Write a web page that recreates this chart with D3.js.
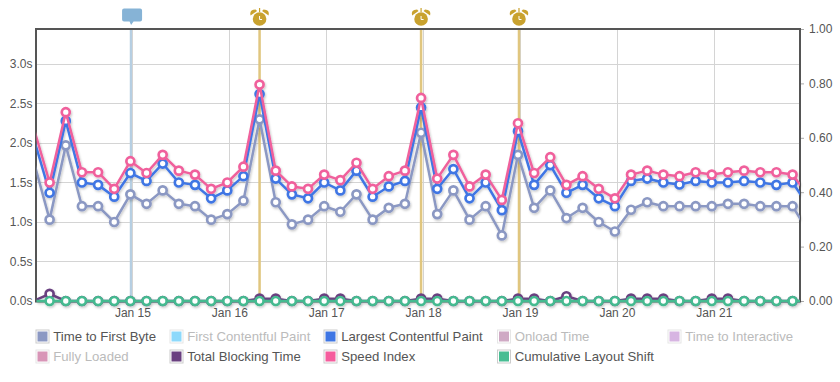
<!DOCTYPE html>
<html>
<head>
<meta charset="utf-8">
<script src="https://cdn.jsdelivr.net/npm/d3@7"></script>
<style>
html,body{margin:0;padding:0;background:#fff;}
svg{display:block;font-family:"Liberation Sans",Arial,sans-serif;}
</style>
</head>
<body>
<svg id="c" width="840" height="382"></svg>
<script>
const times = ["2021-01-13T23:30Z",
"2021-01-14T03:30Z","2021-01-14T07:30Z","2021-01-14T11:30Z","2021-01-14T15:30Z","2021-01-14T19:30Z","2021-01-14T23:30Z",
"2021-01-15T03:30Z","2021-01-15T07:30Z","2021-01-15T11:30Z","2021-01-15T15:30Z","2021-01-15T19:30Z","2021-01-15T23:30Z",
"2021-01-16T03:30Z","2021-01-16T07:30Z","2021-01-16T11:30Z","2021-01-16T15:30Z","2021-01-16T19:30Z","2021-01-16T23:30Z",
"2021-01-17T03:30Z","2021-01-17T07:30Z","2021-01-17T11:30Z","2021-01-17T15:30Z","2021-01-17T19:30Z","2021-01-17T23:30Z",
"2021-01-18T03:30Z","2021-01-18T07:30Z","2021-01-18T11:30Z","2021-01-18T15:30Z","2021-01-18T19:30Z","2021-01-18T23:30Z",
"2021-01-19T03:30Z","2021-01-19T07:30Z","2021-01-19T11:30Z","2021-01-19T15:30Z","2021-01-19T19:30Z","2021-01-19T23:30Z",
"2021-01-20T03:30Z","2021-01-20T07:30Z","2021-01-20T11:30Z","2021-01-20T15:30Z","2021-01-20T19:30Z","2021-01-20T23:30Z",
"2021-01-21T03:30Z","2021-01-21T07:30Z","2021-01-21T11:30Z","2021-01-21T15:30Z","2021-01-21T19:30Z","2021-01-21T23:30Z"];
const ttfb = [1.78,1.03,1.97,1.20,1.20,1.00,1.35,1.23,1.40,1.23,1.20,1.03,1.10,1.27,2.30,1.25,0.97,1.03,1.20,1.13,1.35,1.03,1.18,1.23,2.13,1.10,1.40,1.03,1.20,0.83,1.85,1.18,1.40,1.05,1.18,1.00,0.88,1.155,1.25,1.20,1.20,1.20,1.20,1.23,1.23,1.20,1.20,1.20,0.87];
const lcp = [2.07,1.37,2.28,1.50,1.47,1.32,1.62,1.52,1.74,1.50,1.47,1.30,1.40,1.58,2.62,1.55,1.35,1.30,1.50,1.40,1.65,1.32,1.45,1.52,2.45,1.42,1.67,1.30,1.50,1.15,2.15,1.47,1.72,1.37,1.47,1.30,1.20,1.52,1.55,1.50,1.475,1.52,1.50,1.50,1.52,1.50,1.47,1.50,1.20];
const speedIndex = [2.20,1.50,2.39,1.63,1.63,1.42,1.77,1.62,1.85,1.65,1.60,1.42,1.50,1.70,2.74,1.65,1.45,1.42,1.60,1.53,1.75,1.42,1.58,1.65,2.57,1.55,1.85,1.45,1.60,1.28,2.25,1.62,1.82,1.47,1.58,1.42,1.30,1.60,1.65,1.60,1.58,1.63,1.60,1.63,1.65,1.63,1.63,1.60,1.33];
const tbt = [0,0.09,0,0,0,0,0,0,0,0,0,0,0,0,0.03,0.03,0,0,0.03,0.03,0,0,0,0,0.03,0.03,0,0,0,0,0.03,0.03,0,0.06,0,0,0,0.03,0.03,0.03,0,0,0.03,0.03,0,0,0,0,0];
const cls = [0,0,0,0,0,0,0,0,0,0,0,0,0,0,0,0,0,0,0,0,0,0,0,0,0,0,0,0,0,0,0,0,0,0,0,0,0,0,0,0,0,0,0,0,0,0,0,0,0];

const leftTicks = [0,0.5,1.0,1.5,2.0,2.5,3.0];
const rightTicks = [0,0.2,0.4,0.6,0.8,1.0];
const dayTicks = ["2021-01-15T00:00Z","2021-01-16T00:00Z","2021-01-17T00:00Z","2021-01-18T00:00Z","2021-01-19T00:00Z","2021-01-20T00:00Z","2021-01-21T00:00Z"];
const noteTimes = ["2021-01-14T23:30Z"];
const alarmTimes = ["2021-01-16T07:30Z","2021-01-17T23:30Z","2021-01-18T23:45Z"];

const legendNames = ["Time to First Byte","First Contentful Paint","Largest Contentful Paint","Onload Time","Time to Interactive","Fully Loaded","Total Blocking Time","Speed Index","Cumulative Layout Shift"];
const legendColors = ["#8b98c3","#8dd9fb","#3f76e4","#cfa9c4","#d7b5e2","#d895b7","#6a4080","#f55d9d","#48bd93"];
const legendOn = [true,false,true,false,false,false,true,true,true];

const W = {l:36.5,r:800,t:29,b:301};
const legendCols = [35.5,169.5,323.5,497,667.5];
const legendRows = [336.5,356.5];
const colTtfb="#8b98c3",colLcp="#3f76e4",colSi="#f0609c",colTbt="#6a4080",colCls="#45ba90";
const frameCol="#555", gridCol="#d4d4d4", textCol="#555";

const parse = s => new Date(s);
const x = d3.scaleUtc().domain([parse("2021-01-14T00:15Z"),parse("2021-01-21T21:21Z")]).range([W.l,W.r]);
const yL = d3.scaleLinear().domain([0,272/79]).range([W.b,W.t]);
const yR = d3.scaleLinear().domain([0,1]).range([W.b,W.t]);

const svg = d3.select("#c");
const defs = svg.append("defs");
defs.append("clipPath").attr("id","plot").append("rect").attr("x",W.l).attr("y",0).attr("width",W.r-W.l).attr("height",382);
const f = defs.append("filter").attr("id","sh").attr("filterUnits","userSpaceOnUse").attr("x",0).attr("y",0).attr("width",840).attr("height",382);
f.append("feDropShadow").attr("dx",1).attr("dy",1.5).attr("stdDeviation",1).attr("flood-color","#000").attr("flood-opacity",0.22);

// grid
const gg = svg.append("g");
gg.selectAll("line.h").data(leftTicks.slice(1)).join("line").attr("class","h")
  .attr("x1",W.l).attr("x2",W.r).attr("y1",d=>Math.floor(yL(d))+0.5).attr("y2",d=>Math.floor(yL(d))+0.5)
  .attr("stroke",gridCol);
gg.selectAll("line.v").data(dayTicks).join("line").attr("class","v")
  .attr("y1",W.t).attr("y2",W.b).attr("x1",d=>Math.round(x(parse(d)))+0.5).attr("x2",d=>Math.round(x(parse(d)))+0.5)
  .attr("stroke",gridCol);

// annotation lines
svg.append("g").selectAll("line").data(noteTimes).join("line")
  .attr("x1",d=>x(parse(d))+0.5).attr("x2",d=>x(parse(d))+0.5).attr("y1",W.t).attr("y2",W.b)
  .attr("stroke","#b5cee2").attr("stroke-width",2.2);
svg.append("g").selectAll("line").data(alarmTimes).join("line")
  .attr("x1",d=>x(parse(d))).attr("x2",d=>x(parse(d))).attr("y1",W.t).attr("y2",W.b)
  .attr("stroke","#e0c67f").attr("stroke-width",2.5);

// axes
const axL = svg.append("g").attr("transform",`translate(${W.l},0)`)
  .call(d3.axisLeft(yL).tickValues(leftTicks).tickSize(0).tickPadding(4).tickFormat(d=>d3.format(".1f")(d)+"s"));
const axR = svg.append("g").attr("transform",`translate(${W.r},0)`)
  .call(d3.axisRight(yR).tickValues(rightTicks).tickSize(4).tickPadding(5).tickFormat(d3.format(".2f")));
const axB = svg.append("g").attr("transform",`translate(0,${W.b})`)
  .call(d3.axisBottom(x).tickValues(dayTicks.map(parse)).tickSize(0).tickPadding(7).tickFormat(d3.utcFormat("%b %-d")));
[axL,axR,axB].forEach(a=>{
  a.select(".domain").remove();
  a.selectAll("text").attr("fill",textCol).style("font-size","12px").style("font-family",'"Liberation Sans",Arial,sans-serif');
  a.selectAll("line").attr("stroke","#aaa");
});
axL.selectAll(".tick text").attr("dy","0.33em");
axR.selectAll(".tick text").attr("dy","0.33em");

// frame
svg.append("rect").attr("x",36).attr("y",29).attr("width",764).attr("height",272.5)
  .attr("fill","none").attr("stroke",frameCol).attr("stroke-width",2);

// series
const series = [
  {v:ttfb,c:colTtfb,y:yL},
  {v:lcp,c:colLcp,y:yL},
  {v:tbt,c:colTbt,y:yL},
  {v:speedIndex,c:colSi,y:yL},
  {v:cls,c:colCls,y:yR}
];
const rows = times.map(parse);
const sg = svg.append("g").attr("filter","url(#sh)");
series.forEach(s=>{
  const pts = s.v.map((v,i)=>({t:rows[i],v}));
  const line = d3.line().x(d=>x(d.t)).y(d=>s.y(d.v));
  const g = sg.append("g");
  g.append("path").attr("d",line(pts)).attr("fill","none").attr("stroke",s.c).attr("stroke-width",2.5)
    .attr("stroke-linejoin","round").attr("clip-path","url(#plot)");
  g.selectAll("circle").data(pts.filter(d=>x(d.t)>=W.l && x(d.t)<=W.r)).join("circle")
    .attr("cx",d=>x(d.t)).attr("cy",d=>s.y(d.v)).attr("r",4)
    .attr("fill","#fff").attr("stroke",s.c).attr("stroke-width",2.7);
});

// flag icons
const noteG = svg.append("g").selectAll("g").data(noteTimes).join("g")
  .attr("transform",d=>`translate(${x(parse(d))+1.7},0)`);
noteG.append("path").attr("fill","#86b3d6")
  .attr("d","M-8,8.5 H8 Q10,8.5 10,10.5 V19.5 Q10,21.5 8,21.5 H1.5 L-1,25 L-2.5,21.5 H-8 Q-10,21.5 -10,19.5 V10.5 Q-10,8.5 -8,8.5 Z");
const alarmG = svg.append("g").selectAll("g").data(alarmTimes).join("g")
  .attr("transform",d=>`translate(${x(parse(d))},0)`);
const gold="#c9a22f";
alarmG.append("circle").attr("cx",0).attr("cy",19).attr("r",6.8).attr("fill",gold);
alarmG.append("path").attr("fill",gold).attr("d","M-9,15.5 Q-10.5,9.5 -4,9.5 L-2.5,11 Z");
alarmG.append("path").attr("fill",gold).attr("d","M9,15.5 Q10.5,9.5 4,9.5 L2.5,11 Z");
alarmG.append("rect").attr("x",-0.6).attr("y",8).attr("width",1.2).attr("height",4).attr("fill",gold);
alarmG.append("path").attr("fill","none").attr("stroke","#fff").attr("stroke-width",1).attr("d","M0,16 V19.5 H2.5");

// legend
const lg = svg.append("g").selectAll("g").data(legendNames).join("g")
  .attr("transform",(d,i)=>{
    const cols=[0,1,2,3,4,0,1,2,3], rowsI=[0,0,0,0,0,1,1,1,1];
    return `translate(${legendCols[cols[i]]},${legendRows[rowsI[i]]})`;
  });
lg.append("rect").attr("x",0.5).attr("y",-6.5).attr("width",13).attr("height",13)
  .attr("fill","#fff").attr("stroke",(d,i)=>legendOn[i]?"#ccc":"#e6e6e6").attr("stroke-width",1);
lg.append("rect").attr("x",2).attr("y",-5).attr("width",10).attr("height",10)
  .attr("fill",(d,i)=>legendColors[i]);
lg.append("text").attr("x",17.7).attr("y",4.5).text(d=>d)
  .attr("fill",(d,i)=>legendOn[i]?textCol:"#bbb").style("font-size","13.2px");
</script>
</body>
</html>
